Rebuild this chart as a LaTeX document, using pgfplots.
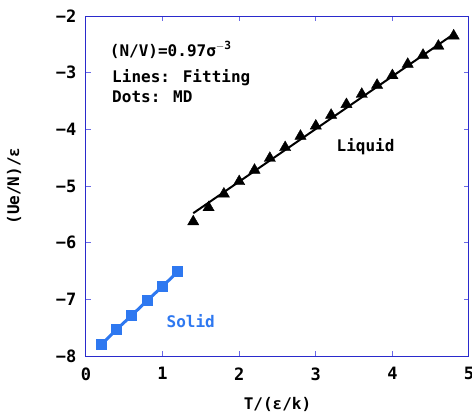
\documentclass[border=0pt]{standalone}
\usepackage{pgfplots}
\pgfplotsset{compat=1.18}
\usepackage{fontspec}
\setmainfont{DejaVu Sans Mono}
\definecolor{axblue}{HTML}{2A2ACC}
\definecolor{tkblue}{HTML}{6A6AE6}
\definecolor{solblue}{HTML}{2E78F0}
\begin{document}
\begin{tikzpicture}[x=1pt,y=1pt]
\useasboundingbox (0,0) rectangle (472,416);
\begin{axis}[
  at={(86pt,60pt)}, anchor=south west,
  scale only axis, width=383pt, height=340pt,
  xmin=0, xmax=5, ymin=-8, ymax=-2,
  xtick={0,1,2,3,4,5}, ytick={-8,-7,-6,-5,-4,-3,-2},
  xticklabels={0,1,2,3,4,5},
  yticklabels={−8,−7,−6,−5,−4,−3,−2},
  tick align=inside, major tick length=5pt,
  axis line style={axblue, line width=1pt},
  every tick/.style={tkblue, line width=1pt},
  tick label style={font=\fontsize{17}{17}\selectfont\bfseries},
  xticklabel style={yshift=-8pt},
  yticklabel style={xshift=-6pt},
  xlabel={T/(ε/k)}, ylabel={(Ue/N)/ε},
  label style={font=\fontsize{16}{16}\selectfont\bfseries},
  xlabel style={yshift=-10pt},
  ylabel style={yshift=28pt},
  clip=false,
]
\addplot[solblue, line width=3pt, mark=square*, mark size=5pt, mark options={solid, fill=solblue, draw=solblue, line width=0pt}] coordinates {
(0.2,-7.80) (0.4,-7.53) (0.6,-7.28) (0.8,-7.02) (1.0,-6.77) (1.2,-6.51)
};
\addplot[black, line width=2pt] coordinates {(1.4,-5.48) (4.8,-2.32)};
\addplot[only marks, mark=triangle*, mark size=6.5pt, mark options={fill=black, draw=black}] coordinates {
(1.4,-5.63) (1.6,-5.38) (1.8,-5.14) (2.0,-4.92) (2.2,-4.72) (2.4,-4.51)
(2.6,-4.32) (2.8,-4.12) (3.0,-3.94) (3.2,-3.75) (3.4,-3.56) (3.6,-3.38)
(3.8,-3.22) (4.0,-3.05) (4.2,-2.85) (4.4,-2.69) (4.6,-2.53) (4.8,-2.35)
};
\node[anchor=west, font=\fontsize{16}{16}\selectfont\bfseries, inner sep=0pt] at (axis cs:0.31,-2.60) {(N/V)=0.97σ$^{\mathbf{-3}}$};
\node[anchor=west, font=\fontsize{16}{16}\selectfont\bfseries, inner sep=0pt] at (axis cs:0.34,-3.09) {Lines: Fitting};
\node[anchor=west, font=\fontsize{16}{16}\selectfont\bfseries, inner sep=0pt] at (axis cs:0.34,-3.43) {Dots: MD};
\node[anchor=west, font=\fontsize{16}{16}\selectfont\bfseries, inner sep=0pt] at (axis cs:3.27,-4.31) {Liquid};
\node[anchor=west, font=\fontsize{16}{16}\selectfont\bfseries, inner sep=0pt, text=solblue] at (axis cs:1.05,-7.39) {Solid};
\end{axis}
\end{tikzpicture}
\end{document}
